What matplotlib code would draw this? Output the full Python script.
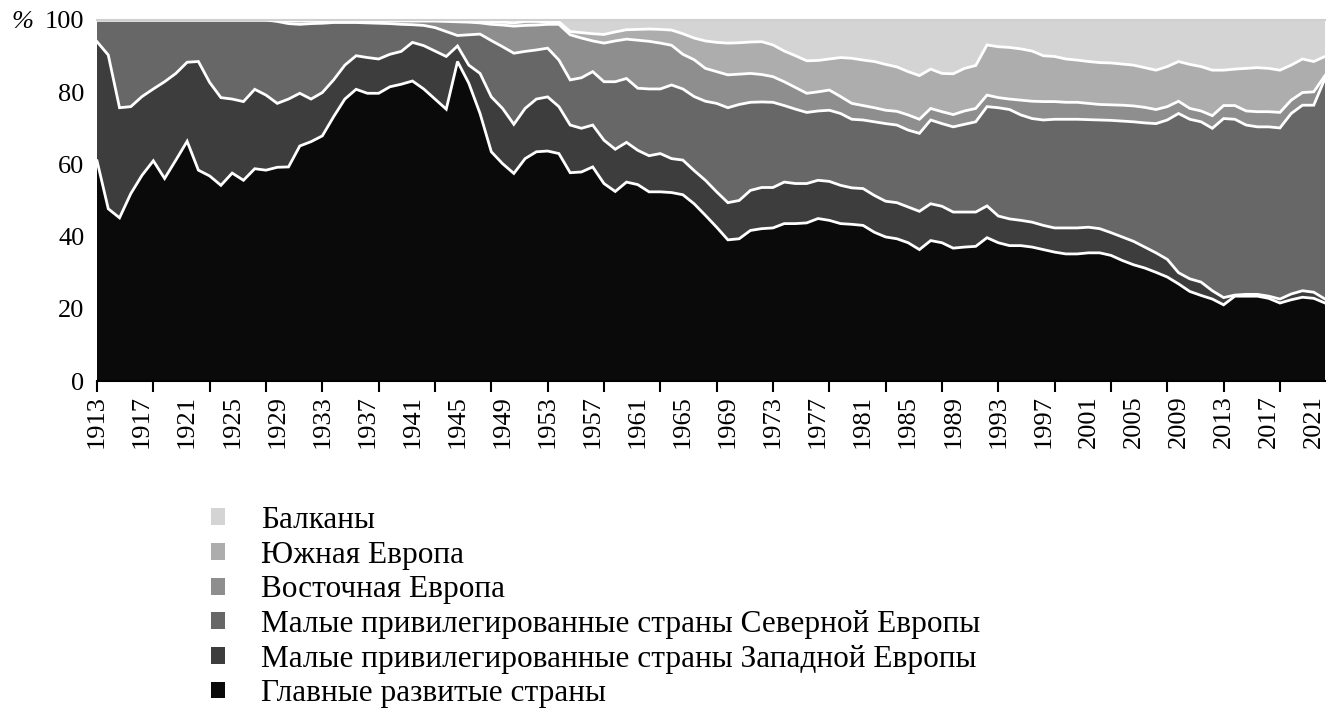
import numpy as np
import matplotlib
matplotlib.use("Agg")
import matplotlib.pyplot as plt
from matplotlib.patches import Patch

years = list(range(1913, 2023))

glavnye = [61.0, 47.7, 45.2, 51.9, 57.0, 61.0, 56.1, 61.2, 66.4, 58.4,
           56.8, 54.2, 57.6, 55.6, 58.8, 58.4, 59.2, 59.3, 65.1, 66.3,
           67.9, 73.2, 78.1, 80.8, 79.7, 79.7, 81.5, 82.2, 83.1, 80.9,
           78.1, 75.3, 88.5, 82.5, 74.1, 63.5, 60.2, 57.5, 61.6, 63.5,
           63.7, 63.0, 57.7, 57.9, 59.3, 54.7, 52.5, 55.1, 54.4, 52.4,
           52.4, 52.2, 51.6, 49.1, 45.9, 42.6, 39.1, 39.4, 41.7, 42.2,
           42.4, 43.6, 43.6, 43.8, 45.0, 44.5, 43.6, 43.4, 43.1, 41.2,
           39.9, 39.4, 38.3, 36.4, 38.9, 38.3, 36.8, 37.1, 37.3, 39.7,
           38.3, 37.5, 37.5, 37.1, 36.4, 35.7, 35.2, 35.2, 35.5, 35.5,
           34.8, 33.4, 32.2, 31.3, 30.1, 28.8, 26.9, 24.8, 23.7, 22.7,
           21.1, 23.5, 23.5, 23.5, 22.9, 21.6, 22.5, 23.2, 22.9, 21.6]

zapadnoy = [33.0, 42.6, 30.5, 24.1, 21.8, 19.9, 26.8, 24.0, 21.9, 30.1,
            25.9, 24.3, 20.5, 21.8, 22.0, 20.8, 17.7, 18.8, 14.6, 11.8,
            12.0, 10.2, 9.4, 9.3, 9.9, 9.5, 9.0, 9.1, 10.7, 12.0,
            13.3, 14.6, 4.3, 5.0, 11.1, 15.2, 15.3, 13.6, 13.9, 14.6,
            15.0, 13.0, 13.2, 12.1, 11.6, 12.0, 11.7, 11.0, 9.5, 10.0,
            10.6, 9.4, 9.6, 9.2, 9.7, 9.8, 10.3, 10.6, 11.1, 11.4,
            11.2, 11.5, 11.1, 10.9, 10.6, 10.8, 10.6, 10.1, 10.2, 10.2,
            9.9, 10.0, 9.9, 10.6, 10.2, 10.1, 10.0, 9.7, 9.5, 8.8,
            7.4, 7.4, 7.0, 6.9, 6.7, 6.7, 7.2, 7.2, 7.1, 6.7,
            6.3, 6.5, 6.5, 5.8, 5.4, 4.9, 3.1, 3.5, 3.7, 2.3,
            2.0, 0.3, 0.5, 0.5, 0.6, 1.1, 1.6, 1.8, 1.7, 1.1]

severnoy = [6.0, 9.7, 24.3, 24.0, 21.2, 19.1, 17.1, 14.8, 11.7, 11.5,
            17.3, 21.5, 21.9, 22.6, 19.2, 20.8, 22.7, 20.9, 19.1, 20.9,
            19.2, 15.9, 11.8, 9.2, 9.6, 9.9, 8.5, 7.5, 4.9, 5.6,
            6.5, 6.9, 2.9, 8.4, 10.9, 15.6, 17.1, 19.7, 15.8, 13.6,
            13.5, 12.9, 12.5, 14.0, 14.8, 16.2, 18.7, 17.7, 17.2, 18.5,
            17.9, 20.4, 19.7, 20.5, 21.9, 24.5, 26.3, 26.6, 24.4, 23.7,
            23.6, 21.2, 20.6, 19.7, 19.2, 19.7, 19.9, 19.0, 19.0, 20.4,
            21.5, 21.5, 21.3, 21.6, 23.2, 22.9, 23.6, 24.3, 25.0, 27.5,
            30.0, 30.3, 29.2, 28.7, 29.2, 30.1, 30.1, 30.1, 29.8, 30.1,
            31.1, 32.1, 33.1, 34.4, 35.8, 38.6, 44.1, 44.2, 44.4, 45.0,
            49.6, 48.7, 46.9, 46.4, 46.9, 47.4, 50.0, 51.4, 51.8, 61.1]

vostochnaya = [0.0, 0.0, 0.0, 0.0, 0.0, 0.0, 0.0, 0.0, 0.0, 0.0,
               0.0, 0.0, 0.0, 0.0, 0.0, 0.0, 0.2, 0.7, 0.9, 0.7,
               0.6, 0.4, 0.4, 0.4, 0.5, 0.6, 0.7, 0.9, 1.0, 1.2,
               1.8, 2.8, 3.8, 3.5, 3.1, 4.5, 6.0, 7.5, 7.2, 6.9,
               6.6, 9.9, 12.5, 11.0, 8.5, 10.7, 11.3, 10.9, 13.3, 13.2,
               12.7, 11.0, 9.6, 10.2, 9.1, 8.8, 9.1, 8.4, 8.0, 7.6,
               7.1, 6.6, 6.0, 5.3, 5.3, 5.6, 4.7, 4.4, 4.0, 3.9,
               3.7, 3.8, 4.2, 3.9, 3.2, 3.3, 3.4, 3.7, 3.7, 3.2,
               2.8, 2.9, 4.1, 4.8, 5.1, 4.9, 4.7, 4.7, 4.5, 4.3,
               4.3, 4.4, 4.4, 4.3, 3.9, 3.7, 3.4, 3.0, 3.0, 3.5,
               3.6, 3.8, 3.9, 4.2, 4.2, 4.3, 3.7, 3.5, 3.7, 0.8]

yuzhnaya = [0.0, 0.0, 0.0, 0.0, 0.0, 0.0, 0.0, 0.0, 0.0, 0.0,
            0.0, 0.0, 0.0, 0.0, 0.0, 0.0, 0.2, 0.2, 0.2, 0.2,
            0.2, 0.2, 0.2, 0.2, 0.2, 0.2, 0.2, 0.2, 0.2, 0.2,
            0.2, 0.3, 0.3, 0.4, 0.5, 0.7, 0.8, 0.9, 1.1, 1.0,
            0.7, 0.7, 0.9, 1.5, 2.0, 2.4, 2.5, 2.6, 3.0, 3.4,
            3.8, 4.2, 5.7, 6.0, 7.6, 8.1, 8.8, 8.7, 8.7, 9.1,
            8.8, 8.5, 8.8, 9.0, 8.7, 8.6, 10.8, 12.5, 12.6, 12.8,
            12.7, 12.3, 12.0, 12.1, 10.9, 10.6, 11.3, 11.8, 11.9, 13.9,
            14.1, 14.3, 14.2, 13.9, 12.7, 12.5, 12.0, 11.7, 11.6, 11.6,
            11.6, 11.4, 11.3, 11.0, 10.9, 11.1, 11.0, 12.2, 12.3, 12.6,
            9.8, 10.1, 11.8, 12.2, 12.0, 11.7, 9.7, 9.3, 8.4, 5.3]

balkany = [0.0, 0.0, 0.0, 0.0, 0.0, 0.0, 0.0, 0.0, 0.0, 0.0,
           0.0, 0.0, 0.0, 0.0, 0.0, 0.0, 0.0, 0.1, 0.1, 0.1,
           0.1, 0.1, 0.1, 0.1, 0.1, 0.1, 0.1, 0.1, 0.1, 0.1,
           0.1, 0.1, 0.2, 0.2, 0.3, 0.5, 0.6, 0.8, 0.4, 0.4,
           0.5, 0.5, 3.2, 3.5, 3.8, 4.0, 3.3, 2.7, 2.6, 2.5,
           2.6, 2.8, 3.8, 5.0, 5.8, 6.2, 6.4, 6.3, 6.1, 6.0,
           6.9, 8.6, 9.9, 11.3, 11.2, 10.8, 10.4, 10.6, 11.1, 11.5,
           12.3, 13.0, 14.3, 15.4, 13.6, 14.8, 14.9, 13.4, 12.6, 6.9,
           7.4, 7.6, 8.0, 8.6, 9.9, 10.1, 10.8, 11.1, 11.5, 11.8,
           11.9, 12.2, 12.5, 13.2, 13.9, 12.9, 11.5, 12.3, 12.9, 13.9,
           13.9, 13.6, 13.4, 13.2, 13.4, 13.9, 12.5, 10.8, 11.5, 10.1]

series_names = ["Главные развитые страны",
                "Малые привилегированные страны Западной Европы",
                "Малые привилегированные страны Северной Европы",
                "Восточная Европа",
                "Южная Европа",
                "Балканы"]
colors = ["#0a0a0a", "#3d3d3d", "#676767", "#8e8e8e", "#adadad", "#d4d4d4"]

y_ticks = [0, 20, 40, 60, 80, 100]
label_years = list(range(1913, 2022, 4))
tick_years = list(range(1913, 2023, 5))

plt.rcParams['font.family'] = ['Liberation Serif', 'DejaVu Serif']

fig = plt.figure(figsize=(13.29, 7.21), dpi=100)
ax = fig.add_axes([97 / 1329, 1 - 381 / 721, (1325 - 97) / 1329, (381 - 20) / 721])

data = [glavnye, zapadnoy, severnoy, vostochnaya, yuzhnaya, balkany]
ax.stackplot(years, *data, colors=colors, linewidth=0)
cum = np.cumsum(np.array(data), axis=0)
for row in cum[:-1]:
    ax.plot(years, row, color="white", linewidth=2.0, solid_joinstyle="miter")

ax.set_xlim(1913, 2022)
ax.set_ylim(0, 100)

ax.set_yticks(y_ticks)
ax.set_yticklabels([str(v) for v in y_ticks], fontsize=19)
ax.tick_params(axis="y", length=0, pad=9)

ax.xaxis.remove_overlapping_locs = False
ax.set_xticks(tick_years)
ax.set_xticklabels([])
ax.tick_params(axis="x", which="major", length=8, width=1.5, direction="out", color="black")
ax.set_xticks(label_years, minor=True)
ax.set_xticklabels([str(y) for y in label_years], minor=True, rotation=90, fontsize=19)
ax.tick_params(axis="x", which="minor", length=0, pad=10)

for s in ["left", "right"]:
    ax.spines[s].set_visible(False)
ax.spines["top"].set_color("#d0d0d0")
ax.spines["top"].set_linewidth(1.5)
ax.spines["bottom"].set_linewidth(1.5)

fig.text(12 / 1329, 1 - 22 / 721, "%", fontsize=19, style="italic", va="center", ha="left")

handles = [Patch(facecolor=c, edgecolor="none") for c in colors[::-1]]
fig.legend(handles, series_names[::-1], loc="upper left",
           bbox_to_anchor=(211 / 1329, 1 - 506 / 721), frameon=False,
           fontsize=22.5, handlelength=0.45, handleheight=0.45,
           handletextpad=1.15, labelspacing=0.18, borderpad=0, borderaxespad=0)

fig.savefig("out.png", dpi=100)
